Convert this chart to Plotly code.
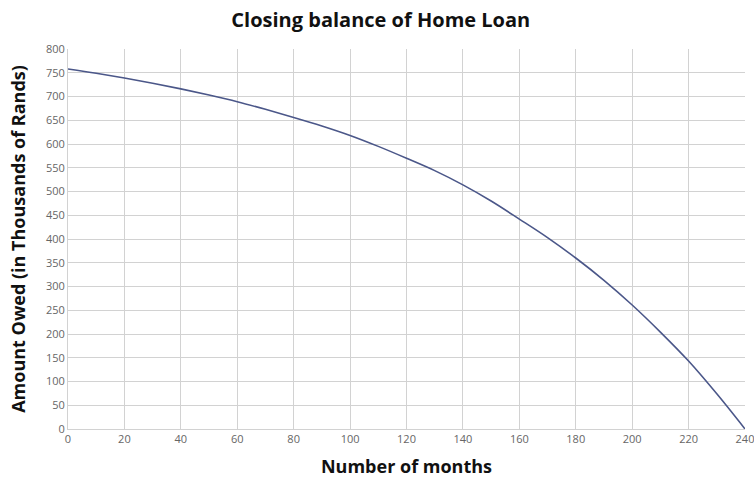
import plotly.graph_objects as go

months = [0, 10, 20, 30, 40, 50, 60, 70, 80, 90, 100, 110, 120, 130, 140, 150,
          160, 170, 180, 190, 200, 210, 220, 230, 240]
balance = [758, 749, 739, 728, 716, 703, 689, 673, 656, 638, 618, 595, 570, 544,
           514, 480, 442, 403, 360, 313, 261, 204, 143, 74, 0]

x_ticks = list(range(0, 241, 20))
y_ticks = list(range(0, 801, 50))

fig = go.Figure()
fig.add_trace(go.Scatter(x=months, y=balance, mode="lines", line_shape="spline",
                         line=dict(color="#4b5789", width=1.6),
                         showlegend=False, cliponaxis=False))

fig.update_layout(
    width=754, height=486,
    paper_bgcolor="white", plot_bgcolor="white",
    margin=dict(l=68, r=9, t=49, b=57, autoexpand=False),
    title=dict(text="<b>Closing balance of Home Loan</b>", x=0.505, xanchor="center",
               y=0.958, yanchor="middle",
               font=dict(family="Open Sans, Liberation Sans, sans-serif", size=20, color="#111")),
    font=dict(family="Open Sans, Liberation Sans, sans-serif"),
)
fig.update_xaxes(range=[0, 240], tickvals=x_ticks, showgrid=True, gridcolor="#d2d2d2",
                 gridwidth=1, zeroline=False, showline=True, linecolor="#d2d2d2",
                 tickfont=dict(size=11, color="#666"), ticks="", automargin=False,
                 ticklabeloverflow="allow",
                 title=dict(text="<b>Number of months</b>",
                            font=dict(size=18, color="#111")))
fig.update_yaxes(range=[0, 800], tickvals=y_ticks, showgrid=True, gridcolor="#d2d2d2",
                 gridwidth=1, zeroline=False, showline=True, linecolor="#d2d2d2",
                 tickfont=dict(size=11, color="#666"), ticks="", automargin=False,
                 ticklabeloverflow="allow",
                 title=dict(text="<b>Amount Owed (in Thousands of Rands)</b>",
                            font=dict(size=18, color="#111")))

fig.write_html("out.html", config={"displayModeBar": False},
               post_script="document.body.style.margin='0';document.body.style.padding='0';")
